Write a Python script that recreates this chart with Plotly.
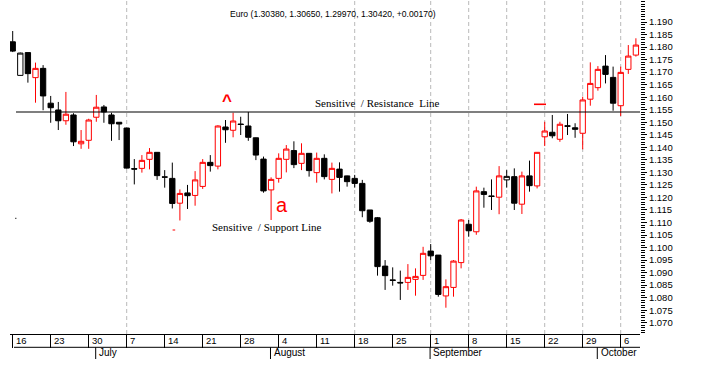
import plotly.graph_objects as go
import pandas as pd

# ---------------- data ----------------
dates = list(pd.bdate_range("2003-06-16", "2003-10-08"))

opens = [1.1821, 1.1687, 1.1778, 1.1678, 1.1715, 1.1576, 1.1549, 1.1506, 1.1529, 1.1414,
         1.1428, 1.1520, 1.1561, 1.1529, 1.1500, 1.1477, 1.1315, 1.1316, 1.1352, 1.1380,
         1.1282, 1.1276, 1.1177, 1.1218, 1.1208, 1.1244, 1.1340, 1.1325, 1.1481, 1.1468,
         1.1493, 1.1485, 1.1438, 1.1353, 1.1230, 1.1276, 1.1352, 1.1387, 1.1336, 1.1376,
         1.1299, 1.1356, 1.1272, 1.1313, 1.1286, 1.1276, 1.1256, 1.1150, 1.1119, 1.0926,
         1.0871, 1.0861, 1.0861, 1.0873, 1.0889, 1.0986, 1.0970, 1.0807, 1.0841, 1.0940,
         1.1093, 1.1063, 1.1223, 1.1206, 1.1201, 1.1270, 1.1283, 1.1173, 1.1286, 1.1246,
         1.1442, 1.1460, 1.1432, 1.1486, 1.1478, 1.1456, 1.1592, 1.1638, 1.1724, 1.1679,
         1.1566, 1.1711, 1.1768]

highs = [1.1864, 1.1778, 1.1778, 1.1738, 1.1728, 1.1605, 1.1581, 1.1621, 1.1536, 1.1469,
         1.1514, 1.1609, 1.1569, 1.1538, 1.1500, 1.1478, 1.1353, 1.1369, 1.1397, 1.1381,
         1.1309, 1.1339, 1.1232, 1.1250, 1.1305, 1.1353, 1.1369, 1.1488, 1.1509, 1.1538,
         1.1522, 1.1541, 1.1439, 1.1363, 1.1280, 1.1376, 1.1409, 1.1424, 1.1416, 1.1377,
         1.1379, 1.1372, 1.1339, 1.1340, 1.1287, 1.1290, 1.1270, 1.1150, 1.1122, 1.0950,
         1.0921, 1.0908, 1.0934, 1.0917, 1.1003, 1.1014, 1.0970, 1.0873, 1.0950, 1.1114,
         1.1110, 1.1243, 1.1239, 1.1272, 1.1325, 1.1309, 1.1316, 1.1303, 1.1347, 1.1381,
         1.1502, 1.1529, 1.1502, 1.1533, 1.1496, 1.1602, 1.1739, 1.1724, 1.1768, 1.1722,
         1.1722, 1.1808, 1.1835]

lows = [1.1780, 1.1686, 1.1658, 1.1578, 1.1548, 1.1498, 1.1469, 1.1490, 1.1405, 1.1394,
        1.1394, 1.1502, 1.1498, 1.1426, 1.1429, 1.1315, 1.1252, 1.1299, 1.1312, 1.1270,
        1.1239, 1.1156, 1.1108, 1.1154, 1.1167, 1.1234, 1.1303, 1.1312, 1.1418, 1.1440,
        1.1449, 1.1426, 1.1349, 1.1219, 1.1110, 1.1259, 1.1300, 1.1317, 1.1309, 1.1283,
        1.1259, 1.1272, 1.1216, 1.1223, 1.1243, 1.1239, 1.1121, 1.1099, 1.0888, 1.0831,
        1.0848, 1.0791, 1.0831, 1.0808, 1.0871, 1.0950, 1.0804, 1.0760, 1.0804, 1.0917,
        1.1043, 1.1051, 1.1159, 1.1150, 1.1133, 1.1239, 1.1150, 1.1134, 1.1223, 1.1236,
        1.1405, 1.1436, 1.1422, 1.1449, 1.1438, 1.1392, 1.1566, 1.1626, 1.1655, 1.1546,
        1.1525, 1.1693, 1.1762]

closes = [1.1784, 1.1776, 1.1694, 1.1715, 1.1605, 1.1558, 1.1506, 1.1532, 1.1422, 1.1424,
          1.1509, 1.1560, 1.1541, 1.1494, 1.1493, 1.1317, 1.1313, 1.1348, 1.1380, 1.1287,
          1.1281, 1.1176, 1.1216, 1.1207, 1.1270, 1.1340, 1.1327, 1.1485, 1.1470, 1.1505,
          1.1491, 1.1440, 1.1369, 1.1226, 1.1272, 1.1356, 1.1393, 1.1331, 1.1376, 1.1307,
          1.1356, 1.1283, 1.1316, 1.1280, 1.1263, 1.1256, 1.1147, 1.1105, 1.0924, 1.0888,
          1.0869, 1.0859, 1.0881, 1.0885, 1.0977, 1.0967, 1.0813, 1.0844, 1.0946, 1.1110,
          1.1067, 1.1226, 1.1212, 1.1204, 1.1286, 1.1284, 1.1177, 1.1286, 1.1247, 1.1380,
          1.1465, 1.1446, 1.1492, 1.1484, 1.1472, 1.1589, 1.1655, 1.1711, 1.1691, 1.1576,
          1.1699, 1.1764, 1.1808]

resistance_level = 1.1541
title_text = "Euro (1.30380, 1.30650, 1.29970, 1.30420, +0.00170)"
month_labels = ["July", "August", "September", "October"]
grid_dates = ["2003-07-07", "2003-08-18", "2003-09-01", "2003-09-08",
              "2003-09-15", "2003-09-22", "2003-09-29", "2003-10-06"]
y_tickvals = [round(1.070 + 0.005 * k, 3) for k in range(25)]

# ---------------- geometry helpers ----------------
W, H = 701, 374
ML, MR, MT, MB = 10, 61, 0, 40
PW, PH = W - ML - MR, H - MT - MB
X0_PX, STEP_PX = 12.7, 7.6          # pixel of first trading day, pixel per day
xr = [(ML - X0_PX) / STEP_PX, (ML + PW - X0_PX) / STEP_PX]
yr = [1.06551, 1.19878]

def px_x(px):
    return (px - ML) / PW

def px_y(py):
    return 1 - (py - MT) / PH

idx = list(range(len(dates)))
date_index = {d.strftime("%Y-%m-%d"): i for i, d in enumerate(dates)}

# colour: red if close above previous close, else black
is_red = [i > 0 and closes[i] > closes[i - 1] for i in idx]

def subset(flag):
    sel = [i for i in idx if is_red[i] == flag]
    return (sel, [opens[i] for i in sel], [highs[i] for i in sel],
            [lows[i] for i in sel], [closes[i] for i in sel])

fig = go.Figure()
for flag, col in [(False, "black"), (True, "red")]:
    sx, so, sh, sl, sc = subset(flag)
    fig.add_trace(go.Candlestick(
        x=sx, open=so, high=sh, low=sl, close=sc,
        increasing=dict(line=dict(color=col, width=1), fillcolor="white"),
        decreasing=dict(line=dict(color=col, width=1), fillcolor=col),
        whiskerwidth=0, hoverinfo="skip", showlegend=False))

shapes = []
# dashed vertical grid lines
for d in grid_dates:
    i = date_index[d]
    shapes.append(dict(type="line", xref="x", yref="paper", x0=i, x1=i, y0=0, y1=1,
                       line=dict(color="rgb(185,185,185)", width=1, dash="4px,3px"),
                       layer="below"))
# resistance line
shapes.append(dict(type="line", xref="paper", yref="y", x0=px_x(16), x1=1,
                   y0=resistance_level, y1=resistance_level,
                   line=dict(color="black", width=1.2), layer="above"))
# lower border of date band
shapes.append(dict(type="line", xref="paper", yref="paper", x0=px_x(14), x1=1,
                   y0=px_y(347.3), y1=px_y(347.3), line=dict(color="black", width=1)))

annotations = []
# date labels (Mondays)
mondays = [i for i, d in enumerate(dates) if d.weekday() == 0]
for i in mondays:
    annotations.append(dict(x=i + 0.12, y=px_y(340.3), xref="x", yref="paper",
                            text=str(dates[i].day), showarrow=False, xanchor="left",
                            yanchor="middle", font=dict(size=9.5, color="black",
                                                        family="Liberation Sans, Arial")))
# month separators and labels
month_starts = []
for i, d in enumerate(dates):
    if i > 0 and d.month != dates[i - 1].month:
        month_starts.append(i)
for i, lab in zip(month_starts, month_labels):
    shapes.append(dict(type="line", xref="x", yref="paper", x0=i - 0.08, x1=i - 0.08,
                       y0=px_y(347.3), y1=px_y(359), line=dict(color="black", width=1)))
    annotations.append(dict(x=i + 0.1, y=px_y(352.5), xref="x", yref="paper", text=lab,
                            showarrow=False, xanchor="left", yanchor="middle",
                            font=dict(size=10, color="black",
                                      family="Liberation Sans, Arial")))

# title
annotations.append(dict(x=px_x(333), y=px_y(13.5), xref="paper", yref="paper",
                        text=title_text, showarrow=False, xanchor="center",
                        yanchor="middle",
                        font=dict(size=8.6, color="black", family="Liberation Sans, Arial")))
# line labels
annotations.append(dict(x=px_x(313), y=px_y(102.5), xref="paper", yref="paper",
                        text="Sensitive&nbsp;&nbsp;/ Resistance&nbsp;&nbsp;Line",
                        showarrow=False, xanchor="left", yanchor="middle",
                        font=dict(size=11, color="black", family="Liberation Serif, Times New Roman")))
annotations.append(dict(x=px_x(210), y=px_y(226.5), xref="paper", yref="paper",
                        text="Sensitive&nbsp;&nbsp;/ Support Line",
                        showarrow=False, xanchor="left", yanchor="middle",
                        font=dict(size=11, color="black", family="Liberation Serif, Times New Roman")))
# red markers
annotations.append(dict(x=px_x(227), y=px_y(100.5), xref="paper", yref="paper", text="<b>^</b>",
                        showarrow=False, xanchor="center", yanchor="middle",
                        font=dict(size=17, color="red", family="Liberation Sans, Arial")))
annotations.append(dict(x=px_x(282), y=px_y(205), xref="paper", yref="paper", text="a",
                        showarrow=False, xanchor="center", yanchor="middle",
                        font=dict(size=20, color="red", family="Liberation Sans, Arial")))
shapes.append(dict(type="line", xref="paper", yref="paper", x0=px_x(534), x1=px_x(546),
                   y0=px_y(104.3), y1=px_y(104.3), line=dict(color="red", width=1.6)))
shapes.append(dict(type="line", xref="paper", yref="paper", x0=px_x(172.6), x1=px_x(175.2),
                   y0=px_y(230), y1=px_y(230), line=dict(color="red", width=1)))
shapes.append(dict(type="line", xref="paper", yref="paper", x0=px_x(15.2), x1=px_x(16.4),
                   y0=px_y(218.3), y1=px_y(218.3), line=dict(color="black", width=1)))

fig.update_layout(
    width=W, height=H, margin=dict(l=ML, r=MR, t=MT, b=MB),
    paper_bgcolor="white", plot_bgcolor="white",
    showlegend=False, boxgap=0.3, boxgroupgap=0.0,
    shapes=shapes, annotations=annotations,
    xaxis=dict(type="linear", range=xr, showgrid=False, zeroline=False,
               rangeslider=dict(visible=False), showline=True, linecolor="black",
               linewidth=1, ticks="outside", ticklen=13, tickcolor="black",
               tickwidth=1, tickmode="array", tickvals=mondays, showticklabels=False),
    yaxis=dict(side="right", range=yr, showgrid=False, zeroline=False, showline=False,
               ticks="outside", ticklen=6, tickcolor="black", tickwidth=1,
               tickmode="array", tickvals=y_tickvals,
               ticktext=[f"{v:.3f}" for v in y_tickvals],
               tickfont=dict(size=9.5, color="black", family="Liberation Sans, Arial"),
               minor=dict(ticks="outside", ticklen=4, dtick=0.001, tick0=1.0,
                          tickcolor="black", tickwidth=1, showgrid=False)),
)

fig.write_html("out.html", config={"displayModeBar": False},
               post_script="document.body.style.margin='0px';")
